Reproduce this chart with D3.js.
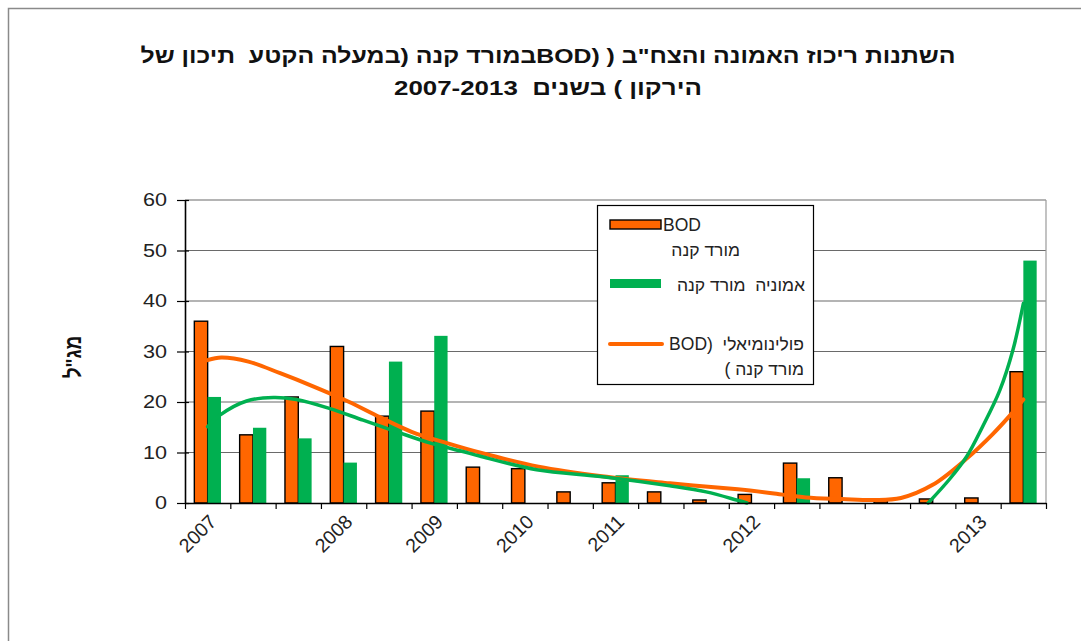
<!DOCTYPE html>
<html>
<head>
<meta charset="utf-8">
<script src="https://cdn.jsdelivr.net/npm/d3@7"></script>
<style>
  html, body { margin: 0; padding: 0; background: #fff; }
  svg { display: block; font-family: "Liberation Sans", Arial, sans-serif; }
  svg text { white-space: pre; }
</style>
</head>
<body>
<svg id="chart" width="1081" height="641"></svg>
<script>
// ---- data ----
const categoryLabels = ["2007","","","2008","","2009","","2010","","2011","","","2012","","","","","2013",""];
const bodValues      = [36, 13.5, 21, 31, 17.2, 18.2, 7.1, 6.8, 2.2, 4.0, 2.2, 0.6, 1.7, 7.9, 5.0, 0.5, 0.8, 1.0, 26];
const ammoniaValues  = [21, 14.9, 12.8, 8.0, 28, 33.1, null, null, null, 5.5, null, null, null, 4.9, null, null, null, null, 48];
const yTickValues    = [0, 10, 20, 30, 40, 50, 60];

// polynomial trend of BOD, sampled along the category index
const bodTrendIdx = [0, 0.3, 0.9, 1.6, 2.3, 3.1, 3.8, 4.5, 5.3, 6, 7.3, 8.7, 10.2, 11.7, 12.5, 13.2, 14, 14.7, 15.3, 16, 16.75, 17.33, 17.77, 18];
const bodTrendVal = [28.3, 28.8, 28.0, 25.7, 23.2, 20.1, 17.0, 14.1, 11.8, 10.0, 7.2, 5.3, 3.9, 2.7, 1.9, 1.1, 0.8, 0.6, 1.0, 3.6, 8.8, 13.7, 18.0, 20.5];

// polynomial trend of ammonia (two visible pieces; the part below zero is cut by the axis)
const nhTrendIdxA = [0, 0.27, 0.86, 1.45, 1.96, 2.7, 3.43, 4.17, 4.9, 5.63, 6.0, 7.26, 8.72, 10.2, 11.0, 11.67, 11.9];
const nhTrendValA = [15.1, 17.4, 20.2, 20.9, 20.5, 18.7, 16.4, 14.1, 11.9, 10.2, 9.3, 6.6, 5.2, 3.4, 2.2, 0.6, 0];
const nhTrendIdxB = [15.9, 16.38, 16.75, 17.1, 17.48, 17.77, 18];
const nhTrendValB = [0, 4.8, 9.2, 15.1, 22.3, 30.3, 39.5];

const titleLines = ['השתנות ריכוז האמונה והצח"ב ( (BODבמורד קנה (במעלה הקטע  תיכון של', 'הירקון ) בשנים  2007-2013'];
const titleWidths = [815, 308];
const yTitle = 'מג"ל';

// ---- layout ----
const W = 1081, H = 641;
const plot = { left: 185, right: 1046, top: 200, bottom: 503 };
const ORANGE = "#FF6600", GREEN = "#00B050";
const TEXT_SX = 1.2; // wide lettering of the axis text

const svg = d3.select("#chart");
svg.append("rect").attr("width", W).attr("height", H).attr("fill", "#fff");

// outer chart frame
svg.append("path")
  .attr("d", `M8.5,${H} V8.5 H${W}`)
  .attr("fill", "none").attr("stroke", "#8a8a8a").attr("stroke-width", 1.5);

const x = d3.scaleBand().domain(d3.range(categoryLabels.length)).range([plot.left, plot.right]);
const xSeries = d3.scaleBand().domain(["bod", "nh"]).range([0, x.bandwidth()]).paddingOuter(0.7);
const xIdx = d3.scaleLinear().domain([-0.5, categoryLabels.length - 0.5]).range([plot.left, plot.right]);
const y = d3.scaleLinear().domain([0, 60]).range([plot.bottom, plot.top]);

// gridlines
svg.append("g").selectAll("line")
  .data(yTickValues.filter(d => d > 0))
  .join("line")
  .attr("x1", plot.left).attr("x2", plot.right)
  .attr("y1", d => y(d)).attr("y2", d => y(d))
  .attr("stroke", "#6a6a6a").attr("stroke-width", 1.1);

// right edge of plot area
svg.append("line")
  .attr("x1", plot.right).attr("x2", plot.right)
  .attr("y1", plot.top).attr("y2", plot.bottom)
  .attr("stroke", "#9a9a9a").attr("stroke-width", 1.2);

// bars
const bars = svg.append("g");
bars.selectAll("rect.bod")
  .data(bodValues.map((v, i) => ({ i, v })).filter(d => d.v != null))
  .join("rect").attr("class", "bod")
  .attr("x", d => x(d.i) + xSeries("bod"))
  .attr("width", xSeries.bandwidth())
  .attr("y", d => y(d.v))
  .attr("height", d => y(0) - y(d.v))
  .attr("fill", ORANGE).attr("stroke", "#000").attr("stroke-width", 1.4);

bars.selectAll("rect.nh")
  .data(ammoniaValues.map((v, i) => ({ i, v })).filter(d => d.v != null))
  .join("rect").attr("class", "nh")
  .attr("x", d => x(d.i) + xSeries("nh"))
  .attr("width", xSeries.bandwidth())
  .attr("y", d => y(d.v))
  .attr("height", d => y(0) - y(d.v))
  .attr("fill", GREEN);

// trend lines
const trendLine = d3.line()
  .x(d => xIdx(d[0])).y(d => y(d[1]))
  .curve(d3.curveCatmullRom.alpha(0.5));

svg.append("path")
  .attr("d", trendLine(d3.zip(bodTrendIdx, bodTrendVal)))
  .attr("fill", "none").attr("stroke", ORANGE).attr("stroke-width", 4).attr("stroke-linecap", "round");

[[nhTrendIdxA, nhTrendValA], [nhTrendIdxB, nhTrendValB]].forEach(([xs, vs]) => {
  svg.append("path")
    .attr("d", trendLine(d3.zip(xs, vs)))
    .attr("fill", "none").attr("stroke", GREEN).attr("stroke-width", 3.5).attr("stroke-linecap", "round");
});

// y axis
const yAxis = svg.append("g")
  .attr("transform", `translate(${plot.left},0)`)
  .call(d3.axisLeft(y).tickValues(yTickValues).tickSizeInner(8).tickSizeOuter(0).tickPadding(10));
yAxis.select(".domain").attr("stroke", "#000").attr("stroke-width", 1.6);
yAxis.selectAll(".tick line").attr("x2", -8).attr("x1", 4).attr("stroke", "#000").attr("stroke-width", 1.2);
yAxis.selectAll(".tick text")
  .attr("x", 0)
  .attr("transform", `translate(-18,0) scale(${TEXT_SX},1)`)
  .attr("font-size", 18).attr("fill", "#222")
  .attr("font-family", "Liberation Sans, Arial, sans-serif");

// x axis: ticks between categories
const xAxis = svg.append("g")
  .attr("transform", `translate(0,${plot.bottom})`)
  .call(d3.axisBottom(xIdx)
    .tickValues(d3.range(categoryLabels.length + 1).map(k => k - 0.5))
    .tickFormat("").tickSizeInner(6).tickSizeOuter(0));
xAxis.select(".domain").attr("stroke", "#000").attr("stroke-width", 1.6);
xAxis.selectAll(".tick line").attr("stroke", "#000").attr("stroke-width", 1.2);

// rotated category labels
svg.append("g").selectAll("text")
  .data(categoryLabels.map((t, i) => ({ t, i })).filter(d => d.t))
  .join("text")
  .attr("transform", d => `translate(${x(d.i) + x.bandwidth() / 2 + 10},${plot.bottom + 20}) rotate(-45)`)
  .attr("text-anchor", "end")
  .attr("font-size", 19.5).attr("fill", "#222")
  .text(d => d.t);

// y axis title
svg.append("text")
  .attr("transform", `translate(81,357) scale(${TEXT_SX},1) rotate(-90)`)
  .attr("text-anchor", "middle")
  .attr("font-size", 19).attr("font-weight", "bold").attr("fill", "#111")
  .style("direction", "rtl")
  .text(yTitle);

// chart title
svg.append("g").selectAll("text")
  .data(titleLines)
  .join("text")
  .attr("x", 548).attr("y", (d, i) => 63 + i * 32)
  .attr("text-anchor", "middle")
  .attr("textLength", (d, i) => titleWidths[i])
  .attr("lengthAdjust", "spacingAndGlyphs")
  .attr("font-size", 21).attr("font-weight", "bold").attr("fill", "#111")
  .style("direction", "rtl")
  .text(d => d);

// legend
const lg = svg.append("g");
lg.append("rect")
  .attr("x", 597.5).attr("y", 205.5).attr("width", 216).attr("height", 179)
  .attr("fill", "#fff").attr("stroke", "#000").attr("stroke-width", 1.2);
lg.append("rect")
  .attr("x", 610).attr("y", 220).attr("width", 51).attr("height", 9)
  .attr("fill", ORANGE).attr("stroke", "#000").attr("stroke-width", 1.4);
lg.append("rect")
  .attr("x", 610).attr("y", 279).attr("width", 51).attr("height", 9)
  .attr("fill", GREEN);
lg.append("line")
  .attr("x1", 610).attr("x2", 662).attr("y1", 344).attr("y2", 344)
  .attr("stroke", ORANGE).attr("stroke-width", 4).attr("stroke-linecap", "round");

const legendTexts = [
  { t: "BOD", x: 663, y: 231, dir: "ltr" },
  { t: "מורד קנה", x: 740, y: 256, dir: "rtl" },
  { t: "אמוניה  מורד קנה", x: 805, y: 291, dir: "rtl" },
  { t: "פולינומיאלי  (BOD", x: 804, y: 350, dir: "rtl" },
  { t: "מורד קנה )", x: 804, y: 375, dir: "rtl" }
];
lg.selectAll("text.lt")
  .data(legendTexts)
  .join("text").attr("class", "lt")
  .attr("x", d => d.x).attr("y", d => d.y)
  .attr("text-anchor", "start")
  .style("direction", d => d.dir)
  .attr("font-size", 17.5).attr("fill", "#222")
  .text(d => d.t);
</script>
</body>
</html>
